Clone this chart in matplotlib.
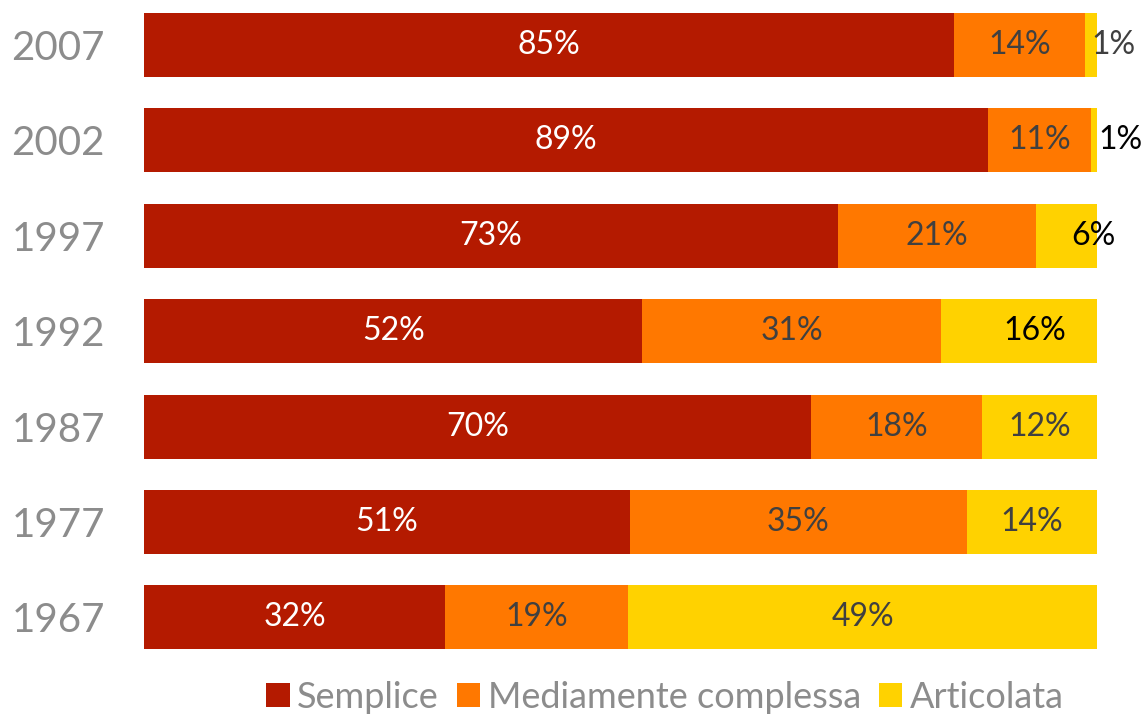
import matplotlib
matplotlib.use("Agg")
import matplotlib.pyplot as plt
from matplotlib.patches import Patch

years = ["2007", "2002", "1997", "1992", "1987", "1977", "1967"]
semplice = [85.0, 88.7, 72.8, 52.3, 70.0, 50.9, 31.6]
mediamente = [13.7, 10.8, 20.8, 31.3, 17.9, 35.4, 19.2]
articolata = [1.3, 0.6, 6.4, 16.4, 12.1, 13.6, 49.2]
series_names = ["Semplice", "Mediamente complessa", "Articolata"]

colors = ["#B41A00", "#FF7800", "#FFD200"]
label_colors = ["white", "#404040", "#404040"]
yellow_label_colors = ["#404040", "black", "black", "black", "#404040", "#404040", "#404040"]
yellow_nudge_px = [23, 26, 27, 16, 0, 0, 0]

FONT = ["Lato", "DejaVu Sans"]
plt.rcParams['font.family'] = FONT

fig = plt.figure(figsize=(11.42, 7.16), dpi=100)
W, H = 1142, 716
ax = fig.add_axes([144 / W, (H - 665) / H, (1097 - 144) / W, 665 / H])

ypos = list(range(len(years)))
series = [semplice, mediamente, articolata]
totals = [sum(v) for v in zip(*series)]
norm = [[s[i] / totals[i] * 100 for i in range(len(years))] for s in series]

left = [0.0] * len(years)
for k, vals in enumerate(norm):
    ax.barh(ypos, vals, left=left, height=0.67, color=colors[k], edgecolor='none')
    for i, (v, l) in enumerate(zip(vals, left)):
        cx = l + v / 2
        raw = series[k][i]
        txt = f"{round(raw):.0f}%"
        if k == 2:
            ax.annotate(txt, (cx, i), xytext=(yellow_nudge_px[i] * 0.72, 0), textcoords='offset points',
                        ha='center', va='center', fontsize=23, color=yellow_label_colors[i],
                        annotation_clip=False)
        else:
            ax.text(cx, i, txt, ha='center', va='center', fontsize=23, color=label_colors[k])
    left = [a + b for a, b in zip(left, vals)]

ax.set_xlim(0, 100)
ax.set_ylim(6.499, -0.4717)
ax.set_yticks(ypos)
ax.set_yticklabels(years, fontsize=29, color="#8C8C8C")
ax.tick_params(axis='y', length=0, pad=28)
ax.set_xticks([])
for s in ax.spines.values():
    s.set_visible(False)

handles = [Patch(facecolor=c, edgecolor='none') for c in colors]
fig.legend(handles, series_names, loc='center', bbox_to_anchor=(665 / W, 1 - 697 / H),
           ncol=3, frameon=False, fontsize=26, handlelength=0.65, handleheight=0.65,
           handletextpad=0.2, columnspacing=0.5, labelcolor="#8C8C8C", borderpad=0)

fig.savefig("out.png", dpi=100)
